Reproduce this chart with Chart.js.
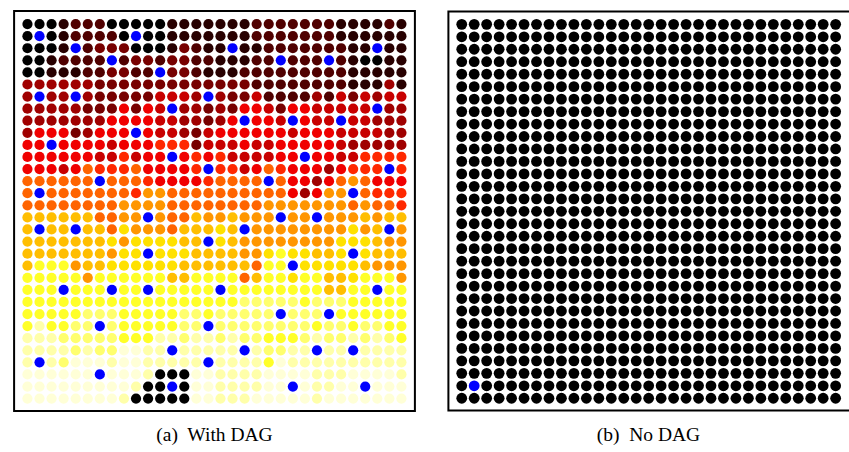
<!DOCTYPE html>
<html>
<head>
<meta charset="utf-8">
<script src="https://cdn.jsdelivr.net/npm/chart.js@4.4.0/dist/chart.umd.min.js"></script>
<style>
  html, body { margin: 0; padding: 0; overflow: hidden; }
  body { background: #fff; width: 849px; height: 452px; position: relative; }
  .panel { position: absolute; top: 5px; height: 412px; overflow: hidden; }
  .panel canvas { position: absolute; left: 0; top: 0; }
  .caption { position: absolute; top: 424px; width: 413px; text-align: center; white-space: pre;
             font-family: "Liberation Serif", "Times New Roman", serif; font-size: 19.5px; color: #000; }
</style>
</head>
<body>
<div class="panel" style="left:8px; width:413px"><canvas id="dagChart" width="413" height="412"></canvas></div>
<!-- the right-hand box runs past the edge of the picture -->
<div class="panel" style="left:442px; width:407px"><canvas id="noDagChart" width="413" height="412"></canvas></div>
<div class="caption" style="left:8px">(a)  With DAG</div>
<div class="caption" style="left:442px">(b)  No DAG</div>
<script>
// one character per cell: 0..f = level on the "hot" scale, x = DAG node (blue)
const levelCodes = "0123456789abcdef";
const levelValues = [0, 0.052, 0.105, 0.157, 0.209, 0.261, 0.314, 0.386, 0.464, 0.529, 0.582, 0.627, 0.719, 0.81, 0.889, 0.948];
const dagNodeColor = "#0000ff";

const withDagRows = [
  "0001222000001111" + "1112222222111121",
  "0x0122220x001111" + "1112222222111111",
  "0001x23330001321" + "1x11222222211x11",
  "0012222x23323322" + "11122x222x210011",
  "00111223322x3321" + "1122222222211111",
  "4444443333333333" + "3332222222211141",
  "4x44x4333335554x" + "4335222242535455",
  "444443336365x443" + "4366536655555x44",
  "4444444666655443" + "46x665x655x55444",
  "466634666x655435" + "6666665666555544",
  "66x6666566677735" + "5565566666544444",
  "666666557566x676" + "7555566x66557777",
  "666568777866667x" + "77568766646777x7",
  "888888x888766667" + "8888x86646898666",
  "8x88888887998888" + "88888864699x8777",
  "8888888899998888" + "8888999999989887",
  "aaaaaa8899x988a9" + "9a999x99x999a9aa",
  "axaaxaa8b9998aaa" + "bax99999999b9ax9",
  "aaaaaaab9bbbbaax" + "ba99999999bbba99",
  "aaaaaaa9bbxbbbaa" + "aa99bcbbaabxbaaa",
  "accc9aabbbbbbaaa" + "aaa8ccxbbbbba999",
  "ccccc9ccccccaacc" + "cc8accbccaabccc9",
  "cccxcccxccxccccc" + "xccccccccaaccxcc",
  "cccccccccccccccc" + "ccdddddcdddccccc",
  "cccccdddcccccddc" + "dddddxdddxcccccc",
  "ceccddxdcccccddx" + "ddddddddcddcddcc",
  "eeedddddccceedee" + "deddcccdeddededc",
  "eeeededdffeexeee" + "eexeddeexeexeeee",
  "exedfffeffeeeeex" + "eeeecfeeeeeeeeee",
  "ffffffxfffe000ff" + "eeeeffffeeeffffe",
  "fffffffffe00x0ff" + "eeeeffxfeeffxfff",
  "ffffffffe00000ff" + "eeefffffefffffff"
];

const noDagRows = [
  "0000000000000000000000000000000",
  "0000000000000000000000000000000",
  "0000000000000000000000000000000",
  "0000000000000000000000000000000",
  "0000000000000000000000000000000",
  "0000000000000000000000000000000",
  "0000000000000000000000000000000",
  "0000000000000000000000000000000",
  "0000000000000000000000000000000",
  "0000000000000000000000000000000",
  "0000000000000000000000000000000",
  "0000000000000000000000000000000",
  "0000000000000000000000000000000",
  "0000000000000000000000000000000",
  "0000000000000000000000000000000",
  "0000000000000000000000000000000",
  "0000000000000000000000000000000",
  "0000000000000000000000000000000",
  "0000000000000000000000000000000",
  "0000000000000000000000000000000",
  "0000000000000000000000000000000",
  "0000000000000000000000000000000",
  "0000000000000000000000000000000",
  "0000000000000000000000000000000",
  "0000000000000000000000000000000",
  "0000000000000000000000000000000",
  "0000000000000000000000000000000",
  "0000000000000000000000000000000",
  "0000000000000000000000000000000",
  "0x00000000000000000000000000000",
  "0000000000000000000000000000000"
];

// matlab-style "hot" colormap
function hot(v) {
  const r = Math.min(1, 3 * v);
  const g = Math.min(1, Math.max(0, 3 * v - 1));
  const b = Math.min(1, Math.max(0, 3 * v - 2));
  return `rgb(${Math.round(r * 255)},${Math.round(g * 255)},${Math.round(b * 255)})`;
}

function cells(rows) {
  const out = [];
  rows.forEach((row, y) => {
    [...row].forEach((ch, x) => {
      out.push({ x: x, y: y, v: ch === "x" ? null : levelValues[levelCodes.indexOf(ch)] });
    });
  });
  return out;
}

// black box round the plot area (right side can be left open when it is off the picture)
const framePlugin = {
  id: "frame",
  afterDraw(chart, args, opts) {
    const { ctx, chartArea: a } = chart;
    const l = a.left + 1, t = a.top + 1, r = a.right - 1, b = a.bottom - 1;
    ctx.save();
    ctx.lineWidth = 2;
    ctx.strokeStyle = "#000";
    ctx.beginPath();
    ctx.moveTo(r + 1, t);
    ctx.lineTo(l, t);
    ctx.lineTo(l, b);
    ctx.lineTo(r + 1, b);
    if (!opts.openRight) {
      ctx.moveTo(r, t);
      ctx.lineTo(r, b);
    }
    ctx.stroke();
    ctx.restore();
  }
};

function dotGrid(id, rows, xRange, yRange, radius, openRight) {
  return new Chart(document.getElementById(id), {
    type: "scatter",
    data: {
      datasets: [{
        data: cells(rows),
        pointRadius: radius,
        pointHoverRadius: radius,
        borderWidth: 0,
        backgroundColor: c => (c.raw && c.raw.v === null) ? dagNodeColor : hot(c.raw ? c.raw.v : 0)
      }]
    },
    options: {
      responsive: false,
      animation: false,
      devicePixelRatio: 1,
      layout: { padding: 0 },
      plugins: { legend: { display: false }, tooltip: { enabled: false }, frame: { openRight: openRight } },
      scales: {
        x: { type: "linear", display: false, min: xRange[0], max: xRange[1] },
        y: { type: "linear", display: false, reverse: true, min: yRange[0], max: yRange[1] }
      }
    },
    plugins: [framePlugin]
  });
}

dotGrid("dagChart", withDagRows, [-1.19, 32.2], [-1.156, 32.1], 5.1, false);
dotGrid("noDagChart", noDagRows, [-1.15, 31.12], [-1.117, 31.07], 5.4, true);
</script>
</body>
</html>
